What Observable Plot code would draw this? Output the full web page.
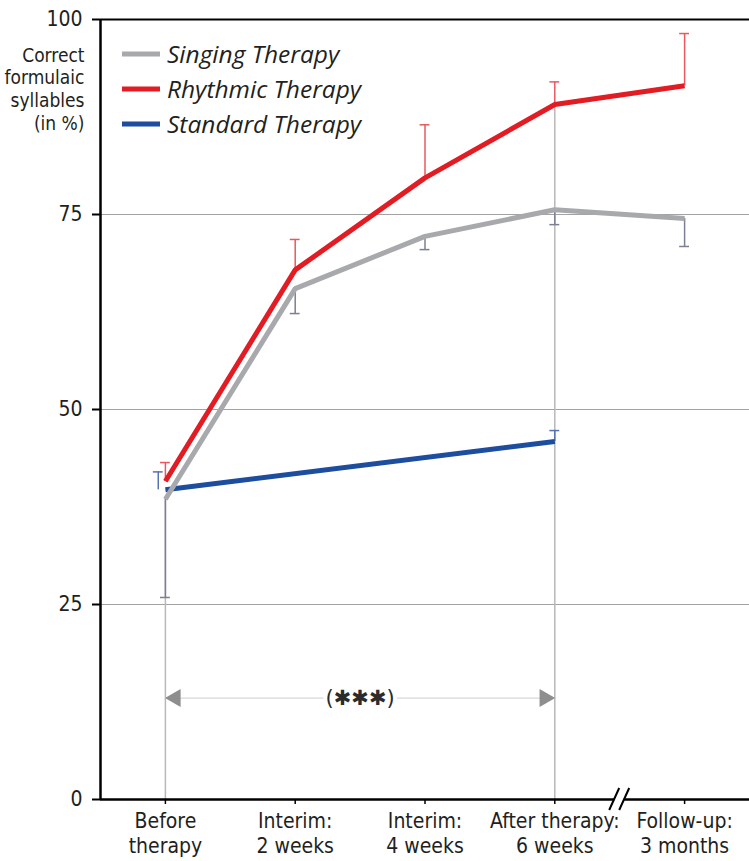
<!DOCTYPE html>
<html>
<head>
<meta charset="utf-8">
<script src="https://cdn.jsdelivr.net/npm/d3@7"></script>
<script src="https://cdn.jsdelivr.net/npm/@observablehq/plot@0.6"></script>
<style>
  html, body { margin: 0; padding: 0; background: #fff; }
  #chart svg { display: block; }
</style>
</head>
<body>
<div id="chart"></div>
<script>
// ---- data ----
const categories = ["Before\ntherapy", "Interim:\n2 weeks", "Interim:\n4 weeks", "After therapy:\n6 weeks", "Follow-up:\n3 months"];
const singing      = [38.5, 65.5, 72.2, 75.6, 74.5];
const singingLow   = [25.9, 62.3, 70.5, 73.7, 70.9];
const rhythmic     = [40.8, 67.9, 79.7, 89.1, 91.5];
const rhythmicHigh = [43.2, 71.8, 86.5, 92.0, 98.2];
const standard     = [39.7, null, null, 45.9, null];
const standardHigh = [42.0, null, null, 47.3, null];
const yTicks = [0, 25, 50, 75, 100];
const gridTicks = [25, 50, 75];
const seriesNames = ["Singing Therapy", "Rhythmic Therapy", "Standard Therapy"];
const seriesColors = ["#a7a9ac", "#e31b23", "#1d4d9e"];
const yTitle = "Correct\nformulaic\nsyllables\n(in %)";
const significance = "(\u2731\u2731\u2731)";
const significanceY = 13;
const significanceFrom = 0, significanceTo = 3;

// ---- build rows ----
const rows = categories.map((c, i) => ({
  i, label: c,
  singing: singing[i], singingLow: singingLow[i],
  rhythmic: rhythmic[i], rhythmicHigh: rhythmicHigh[i],
  standard: standard[i], standardHigh: standardHigh[i]
}));
const stdRows = rows.filter(d => d.standard != null);

const condensed = "'Liberation Sans Narrow', 'Arial Narrow', 'DejaVu Sans Condensed', sans-serif";
const ink = "#231f20";
const cap = 0.038;
const [cGray, cRed, cBlue] = seriesColors;
const errGray = "#7b7f96", errRed = "#e8585d", errBlue = "#5473b0";
const stdX = d => d.i === 0 ? d.i - 0.055 : d.i;

const chart = Plot.plot({
  width: 749, height: 861,
  marginLeft: 100, marginRight: 0, marginTop: 19, marginBottom: 62,
  x: {domain: [-0.5, 4.5]},
  y: {domain: [0, 100]},
  style: {fontFamily: condensed, color: ink, background: "white", overflow: "visible"},
  marks: [
    Plot.ruleY(gridTicks, {stroke: "#a3a3a3", strokeWidth: 1}),
    // reference verticals
    Plot.ruleX([rows[significanceFrom]], {x: "i", y1: 0, y2: "singing", stroke: "#b8b8b8", strokeWidth: 1.5}),
    Plot.ruleX([rows[significanceTo]], {x: "i", y1: 0, y2: "rhythmic", stroke: "#b8b8b8", strokeWidth: 1.5}),
    // significance annotation
    Plot.ruleY([significanceY], {x1: significanceFrom, x2: significanceTo, stroke: "#cdcdcd", strokeWidth: 1}),
    Plot.dot([significanceFrom], {x: d => d, y: significanceY, symbol: "triangle", r: 6.7, rotate: -90, dx: 10, fill: "#8e8e8e", stroke: "none"}),
    Plot.dot([significanceTo], {x: d => d, y: significanceY, symbol: "triangle", r: 6.7, rotate: 90, dx: -10, fill: "#8e8e8e", stroke: "none"}),
    Plot.text([significance], {x: (significanceFrom + significanceTo) / 2, y: significanceY, fontSize: 21, fill: "#2b2b2b", stroke: "white", strokeWidth: 8, paintOrder: "stroke", fontFamily: "'DejaVu Sans', sans-serif"}),
    // error bars
    Plot.ruleX(rows, {x: "i", y1: "singing", y2: "singingLow", stroke: errGray, strokeWidth: 1.5}),
    Plot.ruleY(rows, {y: "singingLow", x1: d => d.i - cap, x2: d => d.i + cap, stroke: errGray, strokeWidth: 1.5}),
    Plot.ruleX(rows, {x: "i", y1: "rhythmic", y2: "rhythmicHigh", stroke: errRed, strokeWidth: 1.5}),
    Plot.ruleY(rows, {y: "rhythmicHigh", x1: d => d.i - cap, x2: d => d.i + cap, stroke: errRed, strokeWidth: 1.5}),
    Plot.ruleX(stdRows, {x: stdX, y1: "standard", y2: "standardHigh", stroke: errBlue, strokeWidth: 1.5}),
    Plot.ruleY(stdRows, {y: "standardHigh", x1: d => stdX(d) - cap, x2: d => stdX(d) + cap, stroke: errBlue, strokeWidth: 1.5}),
    // series lines
    Plot.line(stdRows, {x: "i", y: "standard", stroke: cBlue, strokeWidth: 5, strokeLinecap: "butt", strokeLinejoin: "miter"}),
    Plot.line(rows, {x: "i", y: "singing", stroke: cGray, strokeWidth: 5, strokeLinecap: "butt", strokeLinejoin: "miter"}),
    Plot.line(rows, {x: "i", y: "rhythmic", stroke: cRed, strokeWidth: 5, strokeLinecap: "butt", strokeLinejoin: "miter"}),
    // frame lines
    Plot.ruleY([100], {stroke: "black", strokeWidth: 2}),
    Plot.ruleY([0], {stroke: "black", strokeWidth: 2.5}),
    Plot.ruleX([-0.5], {stroke: "black", strokeWidth: 2.5}),
    // axes
    Plot.axisY({ticks: yTicks, tickSize: 8, tickPadding: 10, fontSize: 21, stroke: "black", strokeWidth: 2, label: null, fill: ink}),
    Plot.axisX({ticks: [0, 1, 2, 3, 4], tickFormat: i => categories[i], tickSize: 5, tickPadding: 5, fontSize: 21, lineHeight: 1.22, stroke: "black", strokeWidth: 1.5, label: null, fill: ink}),
    Plot.text([yTitle], {frameAnchor: "top-left", dx: -16, dy: 26, textAnchor: "end", lineAnchor: "top", lineHeight: 1.2, fontSize: 19, fill: ink})
  ]
});

document.getElementById("chart").appendChild(chart);

// ---- legend and axis break, placed using Plot's scales ----
const svg = d3.select(chart);
const xs = chart.scale("x"), ys = chart.scale("y");
const lg = svg.append("g").attr("text-anchor", "start");
seriesNames.forEach((name, k) => {
  const yy = 54 + k * 35;
  lg.append("line").attr("x1", 122).attr("x2", 160).attr("y1", yy).attr("y2", yy)
    .attr("stroke", seriesColors[k]).attr("stroke-width", 5);
  lg.append("text").attr("x", 167).attr("y", yy).attr("dy", "0.36em")
    .attr("text-anchor", "start")
    .attr("font-family", "'Open Sans', sans-serif").attr("font-style", "italic")
    .attr("font-size", 24.5).attr("fill", ink).text(name);
});
const bx = xs.apply(3.5), by = ys.apply(0);
const br = svg.append("g");
br.append("rect").attr("x", bx - 5).attr("y", by - 3).attr("width", 10).attr("height", 6).attr("fill", "white");
[-5, 5].forEach(o => {
  br.append("line").attr("x1", bx + o - 5).attr("y1", by + 11).attr("x2", bx + o + 5).attr("y2", by - 11)
    .attr("stroke", "black").attr("stroke-width", 2);
});
</script>
</body>
</html>
